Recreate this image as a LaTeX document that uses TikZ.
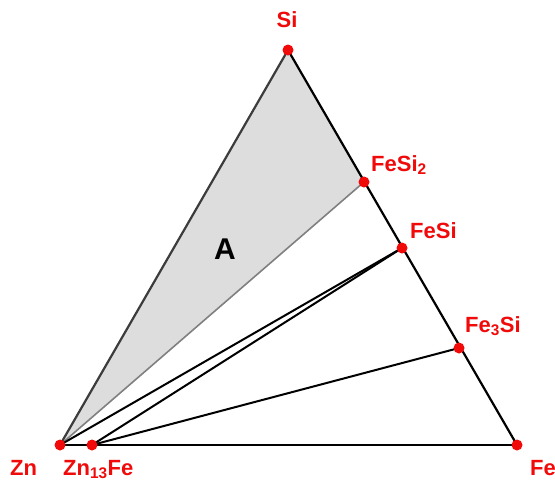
\documentclass[tikz,border=0pt]{standalone}
\usepackage{fontspec}
\setmainfont{Liberation Sans}
\definecolor{ptred}{RGB}{240,10,10}
\definecolor{shadegray}{RGB}{221,221,221}
\definecolor{edgegray}{RGB}{60,60,60}
\begin{document}
\begin{tikzpicture}[x=1pt,y=-1pt,
  dot/.style={circle,fill=ptred,inner sep=0pt,minimum size=11pt},
  lbl/.style={text=ptred,font=\fontsize{22}{26}\selectfont\bfseries,inner sep=0pt},
  edge/.style={line width=2.2pt,black},
  tie/.style={line width=2pt,black}]
\useasboundingbox (0,0) rectangle (555,483);
\coordinate (si) at (288,50);
\coordinate (zn) at (60,445);
\coordinate (fe) at (517,445);
\coordinate (fesi2) at (364,182);
\coordinate (fesi) at (402,248);
\coordinate (fe3si) at (459,348);
\coordinate (zn13fe) at (92,445);
\fill[shadegray] (zn) -- (si) -- (fesi2) -- cycle;
\draw[line width=1.6pt,gray] (zn) -- (fesi2);
\draw[tie] (zn) -- (fesi);
\draw[tie] (zn13fe) -- (fesi);
\draw[tie] (zn13fe) -- (fe3si);
\draw[edge,edgegray] (zn) -- (si);
\draw[edge] (si) -- (fe);
\draw[edge] (zn) -- (fe);
\foreach \p in {si,zn,fe,fesi2,fesi,fe3si,zn13fe}{\node[dot] (d\p) at (\p) {};}
\node[lbl,anchor=base] (lsi) at (287,27) {Si};
\node[lbl,anchor=base west] (lfesi2) at (371,171) {FeSi\textsubscript{2}};
\node[lbl,anchor=base west] (lfesi) at (410,238) {FeSi};
\node[lbl,anchor=base west] (lfe3si) at (465,332) {Fe\textsubscript{3}Si};
\node[lbl,anchor=base west] (lzn) at (10,475) {Zn};
\node[lbl,anchor=base west] (lzn13fe) at (63,475) {Zn\textsubscript{13}Fe};
\node[lbl,anchor=base west] (lfe) at (530,475) {Fe};
\node[font=\fontsize{30}{34}\selectfont\bfseries,inner sep=0pt] (la) at (225,249) {A};
\end{tikzpicture}
\end{document}
